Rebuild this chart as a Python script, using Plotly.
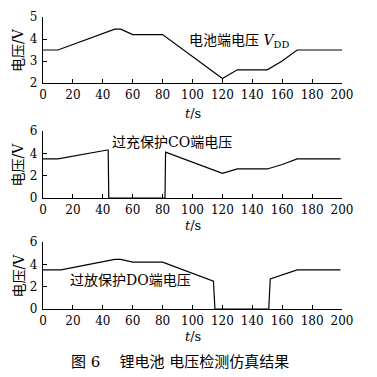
import plotly.graph_objects as go

# Battery terminal voltage V_DD
t_bat = [0, 10, 48, 52, 60, 80, 120, 130, 150, 160, 170, 200]
v_bat = [3.5, 3.5, 4.45, 4.45, 4.2, 4.2, 2.2, 2.6, 2.6, 3.0, 3.5, 3.5]

# Overcharge protection CO terminal
t_co = [0, 10, 43, 43.6, 44, 81, 81.6, 82, 120, 130, 150, 160, 170, 199]
v_co = [3.5, 3.5, 4.3, 4.3, 0, 0, 0, 4.1, 2.2, 2.6, 2.6, 3.0, 3.5, 3.5]

# Overdischarge protection DO terminal
t_do = [0, 12, 48, 52, 60, 80, 114, 115, 151, 152, 170, 199]
v_do = [3.5, 3.5, 4.45, 4.45, 4.2, 4.2, 2.5, 0, 0, 2.7, 3.5, 3.5]

x_ticks = [0, 20, 40, 60, 80, 100, 120, 140, 160, 180, 200]
y1_ticks = [2, 3, 4, 5]
y23_ticks = [0, 2, 4, 6]

FONT = "DejaVu Serif"
CJK = "DejaVu Serif, Noto Sans CJK SC"
H = 377.0

fig = go.Figure()
line = dict(color="black", width=1.2)
fig.add_trace(go.Scatter(x=t_bat, y=v_bat, mode="lines", line=line, xaxis="x", yaxis="y"))
fig.add_trace(go.Scatter(x=t_co, y=v_co, mode="lines", line=line, xaxis="x2", yaxis="y2"))
fig.add_trace(go.Scatter(x=t_do, y=v_do, mode="lines", line=line, xaxis="x3", yaxis="y3"))

def dom(top, bot):
    return [1 - bot / H, 1 - top / H]

# (top px, bottom px, y range, y ticks, t/s label centre px)
panels = [(17, 83, [2, 5], y1_ticks, 113), (131, 198, [0, 6], y23_ticks, 225), (242, 309, [0, 6], y23_ticks, 336)]
axcommon = dict(showline=True, linecolor="black", linewidth=1.2, ticks="inside",
                ticklen=4, tickcolor="black", tickwidth=1, showgrid=False, zeroline=False,
                tickfont=dict(family=FONT, size=12, color="black"))
layout = dict(
    width=377, height=377, margin=dict(l=43, r=35, t=0, b=0, pad=0, autoexpand=False),
    paper_bgcolor="white", plot_bgcolor="white", showlegend=False,
    font=dict(family=CJK, color="black"),
)
for i, (top, bot, rng, yt, tsy) in enumerate(panels, start=1):
    sx = "" if i == 1 else str(i)
    layout["xaxis" + sx] = dict(axcommon, domain=[0, 1], range=[0, 200], tickvals=x_ticks,
                                anchor="y" + sx, ticklabelstandoff=0)
    layout["yaxis" + sx] = dict(axcommon, domain=dom(top, bot), range=rng, tickvals=yt,
                                anchor="x" + sx, ticklabelstandoff=2)
fig.update_layout(**layout)

anns = []
for (top, bot, rng, yt, tsy) in panels:
    yc = 1 - ((top + bot) / 2) / H
    anns.append(dict(text="电压/V", x=-25 / 299, xref="paper", xanchor="center", y=yc, yref="paper",
                     yanchor="middle", textangle=-90, showarrow=False, font=dict(family=CJK, size=14)))
    anns.append(dict(text="<i>t</i>/s", x=0.5, xref="paper", y=1 - tsy / H, yref="paper",
                     yanchor="middle", showarrow=False, font=dict(family=FONT, size=13)))
anns.append(dict(text="电池端电压 <i>V</i><sub>DD</sub>", x=96, y=3.9, xref="x", yref="y",
                 xanchor="left", yanchor="middle", showarrow=False, font=dict(family=CJK, size=14)))
anns.append(dict(text="过充保护CO端电压", x=45, y=5.0, xref="x2", yref="y2",
                 xanchor="left", yanchor="middle", showarrow=False, font=dict(family=CJK, size=14)))
anns.append(dict(text="过放保护DO端电压", x=17, y=2.6, xref="x3", yref="y3",
                 xanchor="left", yanchor="middle", showarrow=False, font=dict(family=CJK, size=14)))
anns.append(dict(text="图 6    锂电池 电压检测仿真结果", x=(180 - 43) / 299, xref="paper", y=1 - 362 / H, yref="paper",
                 yanchor="middle", showarrow=False, font=dict(family=CJK, size=15)))
fig.update_layout(annotations=anns)

fig.write_html("out.html")
